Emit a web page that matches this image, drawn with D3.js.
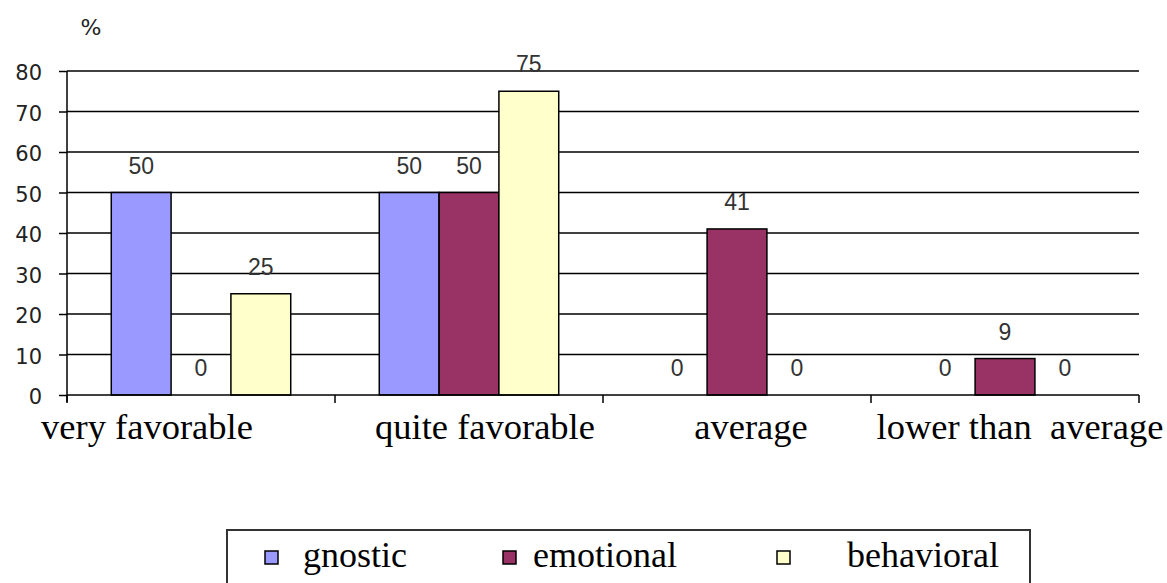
<!DOCTYPE html>
<html>
<head>
<meta charset="utf-8">
<script src="https://cdn.jsdelivr.net/npm/d3@7"></script>
<style>
  body { margin: 0; background: #fff; }
  svg { display: block; }
</style>
</head>
<body>
<svg id="chart" width="1167" height="583"></svg>
<script>
// data
const categories = ["very favorable", "quite favorable", "average", "lower than  average"];
const seriesNames = ["gnostic", "emotional", "behavioral"];
const gnostic = [50, 50, 0, 0];
const emotional = [0, 50, 41, 9];
const behavioral = [25, 75, 0, 0];
const yTicks = [0, 10, 20, 30, 40, 50, 60, 70, 80];

const colors = ["#9999ff", "#993366", "#ffffcc"];
const seriesValues = [gnostic, emotional, behavioral];

const svg = d3.select("#chart");
const plotL = 67, plotR = 1139, plotT = 71, plotB = 395;

const x0 = d3.scaleBand().domain(categories).range([plotL, plotR]).paddingInner(0).paddingOuter(0);
const x1 = d3.scaleBand().domain(seriesNames).range([0, x0.bandwidth()]).paddingInner(0).paddingOuter(0.74);
const y = d3.scaleLinear().domain([0, 80]).range([plotB, plotT]);

// gridlines
svg.append("g")
  .selectAll("line")
  .data(yTicks.filter(d => d > 0))
  .join("line")
  .attr("x1", plotL).attr("x2", plotR)
  .attr("y1", d => y(d)).attr("y2", d => y(d))
  .attr("stroke", "#000").attr("stroke-width", 1.5);

// y axis
const yAxis = svg.append("g")
  .attr("transform", `translate(${plotL},0)`)
  .call(d3.axisLeft(y).tickValues(yTicks).tickSize(8).tickPadding(17));
yAxis.select(".domain").attr("stroke-width", 1.5).attr("d", `M0,${plotT}V${plotB + 7}`);
yAxis.selectAll(".tick line").attr("stroke-width", 1.5);
yAxis.selectAll("text")
  .attr("dy", "0.42em")
  .attr("font-family", "DejaVu Sans")
  .attr("font-size", 21)
  .attr("fill", "#222");

svg.append("text")
  .attr("x", 91).attr("y", 35)
  .attr("text-anchor", "middle")
  .attr("font-family", "DejaVu Sans")
  .attr("font-size", 22)
  .attr("fill", "#222")
  .text("%");

// bars
const rows = categories.map((c, i) => ({
  cat: c,
  vals: seriesNames.map((s, j) => ({ key: s, value: seriesValues[j][i], color: colors[j] }))
}));

const groups = svg.append("g")
  .selectAll("g")
  .data(rows)
  .join("g")
  .attr("transform", d => `translate(${x0(d.cat)},0)`);

groups.selectAll("rect")
  .data(d => d.vals.filter(v => v.value > 0))
  .join("rect")
  .attr("x", d => x1(d.key))
  .attr("y", d => y(d.value))
  .attr("width", x1.bandwidth())
  .attr("height", d => y(0) - y(d.value))
  .attr("fill", d => d.color)
  .attr("stroke", "#000")
  .attr("stroke-width", 1.5);

groups.selectAll("text")
  .data(d => d.vals)
  .join("text")
  .attr("x", d => x1(d.key) + x1.bandwidth() / 2)
  .attr("y", d => y(d.value) - 19)
  .attr("text-anchor", "middle")
  .attr("font-family", "Liberation Sans")
  .attr("font-size", 23)
  .attr("fill", "#333")
  .text(d => d.value);

// x axis
const xAxis = svg.append("g")
  .attr("transform", `translate(0,${plotB})`);
xAxis.append("line")
  .attr("x1", plotL).attr("x2", plotR)
  .attr("stroke", "#000").attr("stroke-width", 1.5);
xAxis.selectAll(".tk")
  .data(categories.concat([null]))
  .join("line")
  .attr("class", "tk")
  .attr("x1", d => d === null ? plotR : x0(d))
  .attr("x2", d => d === null ? plotR : x0(d))
  .attr("y1", 0).attr("y2", 8)
  .attr("stroke", "#000").attr("stroke-width", 1.5);

const labelShift = [-54, 16, 14, 15];
xAxis.selectAll(".lbl")
  .data(categories)
  .join("text")
  .attr("class", "lbl")
  .attr("x", (d, i) => x0(d) + x0.bandwidth() / 2 + labelShift[i])
  .attr("y", 44)
  .attr("text-anchor", "middle")
  .attr("font-family", "Liberation Serif")
  .attr("font-size", 36.5)
  .attr("fill", "#000")
  .style("white-space", "pre")
  .text(d => d);

// legend
const legend = svg.append("g");
legend.append("rect")
  .attr("x", 227).attr("y", 530)
  .attr("width", 803).attr("height", 70)
  .attr("fill", "#fff")
  .attr("stroke", "#333").attr("stroke-width", 2);

const legendX = [265, 503, 777];
const legendTextX = [303, 533, 847];
const items = legend.selectAll(".item")
  .data(seriesNames)
  .join("g")
  .attr("class", "item");
items.append("rect")
  .attr("x", (d, i) => legendX[i]).attr("y", 551)
  .attr("width", 13).attr("height", 13)
  .attr("fill", (d, i) => colors[i])
  .attr("stroke", "#000").attr("stroke-width", 1.5);
items.append("text")
  .attr("x", (d, i) => legendTextX[i]).attr("y", 567)
  .attr("font-family", "Liberation Serif")
  .attr("font-size", 36)
  .attr("fill", "#000")
  .text(d => d);
</script>
</body>
</html>
